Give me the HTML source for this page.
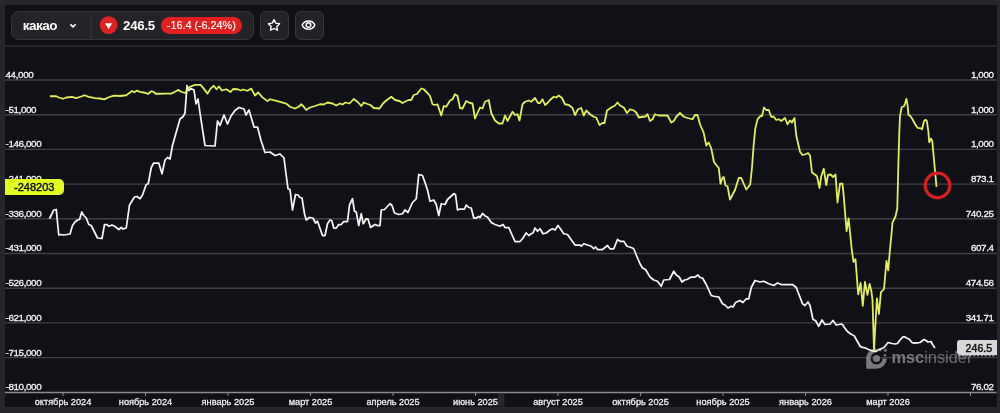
<!DOCTYPE html>
<html><head><meta charset="utf-8">
<style>
html,body{margin:0;padding:0;}
body{width:1000px;height:413px;overflow:hidden;background:#26272c;position:relative;font-family:"Liberation Sans","DejaVu Sans",sans-serif;}
#panel{position:absolute;left:5px;top:5px;width:991.6px;height:401.6px;background:#101116;}
#sep{position:absolute;left:5px;top:45px;width:991.6px;height:1.5px;background:#26262b;}
svg{position:absolute;left:0;top:0;}
.g{stroke:#404046;stroke-width:1.4;}
.ax{stroke:#8c8c90;stroke-width:1.3;}
.tk{stroke:#8c8c90;stroke-width:1;}
.lb{font-family:"Liberation Sans",sans-serif;font-size:9.8px;letter-spacing:-0.36px;fill:#f2f2f2;stroke:#f2f2f2;stroke-width:0.32px;}
.xl{font-family:"Liberation Sans",sans-serif;font-size:9.2px;fill:#eeeeee;stroke:#eeeeee;stroke-width:0.3px;}
.sw{fill:none;stroke:#f4f4f4;stroke-width:1.75;stroke-linejoin:round;}
.sy{fill:none;stroke:#e2ee5a;stroke-width:1.8;stroke-linejoin:round;}
.rc{fill:none;stroke:#d81e1e;stroke-width:3.2;}
.wm{fill:#8a8a8e;opacity:0.85;}
.wmt{font-family:"Liberation Sans",sans-serif;font-size:16.8px;}
.pill{position:absolute;left:10.7px;top:11.2px;width:241.5px;height:26.6px;background:#232328;border:1px solid #35353b;border-radius:8px;}
.btn{position:absolute;top:11.2px;width:26.6px;height:26.6px;background:#222227;border:1px solid #36363c;border-radius:6px;}
.t{position:absolute;white-space:nowrap;line-height:1;}
#name{left:22.8px;top:18.6px;font-size:13.5px;font-weight:700;color:#fff;letter-spacing:-0.55px;}
#price{left:123px;top:18.6px;font-size:13.2px;font-weight:700;color:#fff;letter-spacing:-0.2px;}
#chg{position:absolute;left:160.8px;top:16.8px;width:81.3px;height:17.4px;border-radius:9px;background:#e4201e;}
#chgt{left:166.8px;top:20px;font-size:10.8px;color:#fff;letter-spacing:0px;-webkit-text-stroke:0.15px #fff;}
#div{position:absolute;left:90.3px;top:15.5px;width:1.6px;height:22.5px;background:#2e2e33;}
#ybadge{position:absolute;left:5px;top:178.5px;width:58.5px;height:16px;background:#e3fd1f;border-radius:0 5px 5px 0;}
#ybt{left:14px;top:181.5px;font-size:11px;color:#111;-webkit-text-stroke:0.45px #111;}
#wbadge{position:absolute;left:957px;top:340px;width:40px;height:15px;background:#d8d8d8;border-radius:3px 0 0 3px;}
#wbt{left:965.6px;top:342.6px;font-size:10.6px;color:#111;-webkit-text-stroke:0.45px #111;}
</style></head>
<body>
<div id="panel"></div>
<div id="sep"></div>
<svg width="1000" height="413" viewBox="0 0 1000 413">
<line x1="5" y1="80.0" x2="996.5" y2="80.0" class="g"/>
<line x1="5" y1="114.7" x2="996.5" y2="114.7" class="g"/>
<line x1="5" y1="149.4" x2="996.5" y2="149.4" class="g"/>
<line x1="5" y1="184.1" x2="996.5" y2="184.1" class="g"/>
<line x1="5" y1="218.8" x2="996.5" y2="218.8" class="g"/>
<line x1="5" y1="253.5" x2="996.5" y2="253.5" class="g"/>
<line x1="5" y1="288.2" x2="996.5" y2="288.2" class="g"/>
<line x1="5" y1="322.9" x2="996.5" y2="322.9" class="g"/>
<line x1="5" y1="357.6" x2="996.5" y2="357.6" class="g"/>
<line x1="5" y1="392.5" x2="996.5" y2="392.5" class="ax"/>
<line x1="63.0" y1="392.5" x2="63.0" y2="396" class="tk"/>
<line x1="145.5" y1="392.5" x2="145.5" y2="396" class="tk"/>
<line x1="228.0" y1="392.5" x2="228.0" y2="396" class="tk"/>
<line x1="310.5" y1="392.5" x2="310.5" y2="396" class="tk"/>
<line x1="393.0" y1="392.5" x2="393.0" y2="396" class="tk"/>
<line x1="475.5" y1="392.5" x2="475.5" y2="396" class="tk"/>
<line x1="558.0" y1="392.5" x2="558.0" y2="396" class="tk"/>
<line x1="640.5" y1="392.5" x2="640.5" y2="396" class="tk"/>
<line x1="723.0" y1="392.5" x2="723.0" y2="396" class="tk"/>
<line x1="805.5" y1="392.5" x2="805.5" y2="396" class="tk"/>
<line x1="888.0" y1="392.5" x2="888.0" y2="396" class="tk"/>
<line x1="970.5" y1="392.5" x2="970.5" y2="396" class="tk"/>
<text x="5.5" y="77.9" class="lb">44,000</text>
<text x="5.5" y="112.6" class="lb">-51,000</text>
<text x="5.5" y="147.3" class="lb">-146,000</text>
<text x="5.5" y="182.0" class="lb">-241,000</text>
<text x="5.5" y="216.7" class="lb">-336,000</text>
<text x="5.5" y="251.4" class="lb">-431,000</text>
<text x="5.5" y="286.1" class="lb">-526,000</text>
<text x="5.5" y="320.8" class="lb">-621,000</text>
<text x="5.5" y="355.5" class="lb">-715,000</text>
<text x="5.5" y="390.4" class="lb">-810,000</text>
<text x="993.6" y="77.9" class="lb" text-anchor="end">1,000</text>
<text x="993.6" y="112.6" class="lb" text-anchor="end">1,000</text>
<text x="993.6" y="147.3" class="lb" text-anchor="end">1,000</text>
<text x="993.6" y="182.0" class="lb" text-anchor="end">873.1</text>
<text x="993.6" y="216.7" class="lb" text-anchor="end">740.25</text>
<text x="993.6" y="251.4" class="lb" text-anchor="end">607.4</text>
<text x="993.6" y="286.1" class="lb" text-anchor="end">474.56</text>
<text x="993.6" y="320.8" class="lb" text-anchor="end">341.71</text>
<text x="993.6" y="390.4" class="lb" text-anchor="end">76.02</text>
<text x="63.0" y="404.8" class="xl" text-anchor="middle">октябрь 2024</text>
<text x="145.5" y="404.8" class="xl" text-anchor="middle">ноябрь 2024</text>
<text x="228.0" y="404.8" class="xl" text-anchor="middle">январь 2025</text>
<text x="310.5" y="404.8" class="xl" text-anchor="middle">март 2025</text>
<text x="393.0" y="404.8" class="xl" text-anchor="middle">апрель 2025</text>
<text x="475.5" y="404.8" class="xl" text-anchor="middle">июнь 2025</text>
<text x="558.0" y="404.8" class="xl" text-anchor="middle">август 2025</text>
<text x="640.5" y="404.8" class="xl" text-anchor="middle">октябрь 2025</text>
<text x="723.0" y="404.8" class="xl" text-anchor="middle">ноябрь 2025</text>
<text x="805.5" y="404.8" class="xl" text-anchor="middle">январь 2026</text>
<text x="888.0" y="404.8" class="xl" text-anchor="middle">март 2026</text>
<g class="wm">
<path d="M886.8 358.5 A10.3 10.3 0 0 1 876.5 368.8 L866.2 368.8 L866.2 358.5 A10.3 10.3 0 0 1 876.5 348.2 L876.5 352.5 A6 6 0 1 0 882.5 358.5 Z"/>
<circle cx="876.5" cy="358.5" r="3.6"/>
<circle cx="880.3" cy="349.8" r="1.5"/>
<circle cx="885.3" cy="350.3" r="1.5"/>
<circle cx="885" cy="355.3" r="1.3"/>
<text x="891.4" y="362.6" class="wmt" textLength="81" lengthAdjust="spacingAndGlyphs"><tspan font-weight="700">msc</tspan><tspan font-weight="400" fill="#7c7c80">insider</tspan></text>
</g>
<polyline points="49.5,218.75 53.75,210 56.25,209.5 58.75,235 61.25,234.5 63.75,235 70,234 72.5,225.5 75,222 77.5,220 79.5,219.5 81.75,212 83.75,215.5 86.25,218 88.75,224.5 91.25,225.5 97.5,238 102,238.5 104.5,224.5 107,224.5 108.75,226.25 112,225 115,226.5 118.75,229.5 121.25,227.5 123,229 126.25,228 129.5,205 134.5,197 137,196.5 140,198.75 142.5,195 146.25,184.5 148.25,183.75 151.25,167.5 153.75,163 158.75,163 162,173.75 165,160 167.5,157.5 170,159 172.5,145.5 176,133 180,119 183,116.75 185,113 187,85.5 189,90.5 191,88.5 194,90 196,104 198,99 200,113 205,145.5 215,146 217.5,121 220,125.5 224,115 227.5,124 231,116 235,110.5 239,107.5 244,109 246,115 249,110 254,127 257.5,127 261,140.5 265,152.5 270,152 275,155.5 280,154 284,158 285.5,170 288,188.75 290,189.5 292.5,210 295.5,194.5 298,195 300,197.5 302,198 304.5,213.75 306.25,220 309.5,217.5 313,218 315.5,223 317.5,221.25 322.5,235.5 325,235.5 327.5,223.75 330,220 331.75,220.5 333.75,228 336.25,228 338.75,224.5 341.25,224.5 343.75,221.5 347.5,221.5 349.5,205 352.5,198.75 354.5,211.25 356.25,212 358.75,225.5 361.25,213.75 363.25,223.75 366.25,218.75 368,219 370.5,227.5 375,224.5 377.5,225.5 380,225.5 381.25,210 384.5,209.5 390,203.75 392,205.5 394.5,213 398.75,214.5 402.5,213.75 405,210 408,212.5 412.5,202.5 416.25,198.75 418.75,174.5 422.5,175.5 425,182.5 427.5,190 430,201.25 433.75,200 436.25,204.5 438.75,215.5 441.25,203.75 445,204.5 447.5,199.5 453.75,193.75 455.5,194.5 457.5,210 460,209 464.5,209 466.25,205 468.75,207.5 471.25,208 473.75,218 476.25,218 478.75,216.5 480,217.5 482.5,213.5 485.5,216.25 487.5,217 491.25,222.5 495,224.5 500,226.25 503,224.5 505,227.5 508.75,227.5 515,241.5 520,241.5 522.5,238.75 526.25,233 528.75,235.5 531.25,233.75 533,233 535,228 537.5,231.25 540,228.75 543,233.75 546.25,233 550,230 552.5,228.75 555,230 558,225.5 561.25,230 563.75,233.75 567.5,234.5 575,245 580,245 581.25,246.25 583.75,243.75 587.5,245 591.25,246.25 593.75,248.75 595.5,247 597.5,249.5 602.5,249.5 605,247.5 607.5,245.5 610,248.75 613.75,248.75 617.5,239.5 620,241.25 623.75,241.25 627,246.25 631.25,247.5 633.75,248.75 636.25,255 640,263.75 642.5,268 645.5,269.5 650,277 653.75,280 657.5,281.25 661.25,286.25 663.75,280 669.5,279.5 673.75,271.25 676.25,275 679.25,277 682,282 684.5,280 687,279.5 691.25,277 695,277 698,275 700,277.5 702.5,278 706.25,284.5 711.25,295.5 713.75,296.25 718.75,297 722.5,303.75 725,305 728,308 731.25,306.25 733,307 735.5,302.5 740,300.5 743,302.5 746.25,298.75 748.75,298.75 751.25,287.5 755,280.5 760,282 763.75,281.25 768.75,283.75 773.75,285.5 777.5,283 781.25,284.5 792.5,284.5 796.25,287.5 802.5,303.75 805,305.5 808,302 810,305.5 813,319.5 815.5,320.5 818.75,326.25 822,320 825,324.5 830,324 833,320.5 836.25,325 841.25,324 843,325 844,327 847,331 850,333.5 852.5,335 854,335.5 856,339 860,346 861.5,347.2 865,347.8 868.5,349.5 872,350.8 874.5,351.2 877,351 878,350 881,348.8 884,347.5 886,345 888,342.5 890,343 892,343.5 895,344 897.5,343.5 900,340 903,336.8 904.5,336.8 906.5,338 909,339 912,342.5 914,343.2 917,342.8 920,342.5 924,339.5 926,340.5 928,342 931,341.5 932.5,344.5 935,348" class="sw"/>
<polyline points="50,96.25 56.25,96.25 58.75,97.5 63.1,98.75 66.25,97.5 71.9,96.9 76.25,98.1 81.25,96.5 84.4,95.25 88.75,96.9 95,98.1 100,98.5 104.4,99.4 108.1,97.5 113.75,95.6 120,96 126.25,95.25 129.4,93.1 131.9,91 134.4,92.25 136.9,90.6 140,91.9 143.75,92.5 146.25,93.1 148.1,94 151.25,91.25 153.75,91.9 155.6,93.75 160,93.75 165,93.6 171.25,93.6 175,91.75 178.1,89.9 181.25,91.75 185,93 187.5,89.9 190,86.75 195,84.9 200.6,84.9 203.75,88.6 207.5,93.6 210.6,88.6 213.75,85.75 216.5,89.25 219,86.5 221.9,90.5 226.25,89.25 230.6,92 233.1,89 237.5,89.25 240.6,90.5 243.1,89.5 247.5,90.75 251.25,88.6 255,95.5 258.1,92.4 262.5,97.4 267.5,101.1 270,99.25 277.5,101.1 286.25,103.6 290,106.75 295,108.5 298.75,106.75 301.25,104.25 303.75,106.75 306.25,110 310,107.5 315,106 320,104.25 323.75,104.5 327.5,102.5 332.5,103.5 336.25,105.5 340,103.5 342.5,104.5 345.5,102.5 349.5,103.5 353.75,99 357.5,101.75 361.25,106 363.75,102.5 367.5,104 370.5,105 373.75,108 379.5,108.5 383,103.5 386.25,100.5 391.25,96.75 395,100 399.5,101 402.5,103 406.25,101 408.75,100 411.25,100 413.75,95 417,94 421.25,88.5 423.75,89.25 427.5,93 430,96 432.5,104.25 435,105 437.5,104.25 441.25,115.5 443.75,106 446.25,106.75 450,100.5 452.5,99.25 455,94.25 457.5,96 460,108 462.5,108.5 466.25,101 470,103 472.5,103.5 475,118.5 477.5,113 480,107.5 482.5,108.5 485,101.75 488.75,100 491.25,113 495,120.5 498.75,123.5 502.5,123.5 505,115.5 507.5,121 512.5,111.75 515,115 517.5,114.25 519.5,120.5 522.5,104.25 525,101.75 528.75,100.5 531.25,101.75 535,98 538,103 540,103 542.5,99.25 545,105 547.5,103 550,100 553.75,96.75 556.25,97.5 558.75,95.5 562,98 565,104.25 568.75,105 572.5,108 575,115 578,109.25 581.25,108 583.75,115.5 586.25,110.5 590,114.25 593.75,116.75 596.25,117.5 599.5,125 602.5,123 604.5,123 607,110.5 611.25,107.5 615,105.5 617.5,102.5 620,105.5 623.75,107.5 627,113 630,109.25 633.75,110.5 636.25,112.5 638.75,117.5 642.5,116.75 645,116.75 647.5,114.25 650,121 652.5,119.25 655,114.25 658.75,115.5 663.75,115.5 667.5,115.5 671.25,122.5 673.75,121 676.25,116.75 680,113 683.75,116.75 687.5,118 692.5,119.25 695,115 697.5,115 700,124.25 703.75,133 706.25,145.5 708.75,142.5 711.25,148.5 714,162 716.25,165 718.75,168 720.5,183.75 722.5,177.5 723.75,177 725.5,185.5 727.5,186.25 730,199.5 735,190 738.75,178 741.25,178 746.25,189.5 750.2,184.5 752,167.5 753.7,144.5 755.3,128.4 757.6,119.2 760.6,115.8 762,116 764,107.5 766.25,110 768.75,110 771.25,116.75 773.75,116.75 776.25,120 778.75,119.25 781.25,121 785,118 787.5,124.25 790,120.5 792,122.5 794.5,118 796.25,135.5 800,151.75 802.5,155 805.5,154.25 808,153 810,155.5 812,172.5 815.5,175 817,176.25 819.5,188 821.25,176.25 823.75,168.75 826.25,185 828,175 830.5,174.5 833,177 835.5,174.5 837.5,202.5 840,183.75 842.5,183.75 843.6,194.7 846.6,231.1 848.6,218.4 850.3,235 851.8,250 853.5,261.9 855.5,259.3 858.2,294.4 860.6,283 862.8,305.9 865,281.9 867.4,294.9 869.6,283.9 871.3,290.7 872.5,300 874,349.8 876.9,298.3 878.9,314 880.9,292.4 884,289 886.5,261 888.2,270.3 889.9,250 891.7,232 892.5,222.7 895.5,216.5 897.3,208.2 898.4,162.7 899.3,132 900,116.2 901.7,107 903.7,106.5 905.1,103.6 906.4,98.8 907.5,104.6 908.5,114.8 910.4,116.2 912.4,119.1 915.3,124.5 917.7,127.9 920.6,128.3 922.1,129.3 924,121.1 925.5,119.6 926.9,121.1 928.4,132 929.2,142.3 931,138.6 932.3,141.4 936.5,186.8" class="sy"/>
<circle cx="937.5" cy="185.5" r="12.3" class="rc"/>
<rect x="498" y="393.6" width="6.4" height="13" fill="#28282c"/>
</svg>
<div class="pill"></div>
<div class="t" id="name">какао</div>
<svg width="1000" height="50" style="position:absolute;left:0;top:0">
<path d="M70.8 24.7 L73 26.9 L75.2 24.7" fill="none" stroke="#fff" stroke-width="1.6" stroke-linecap="round" stroke-linejoin="round"/>
<circle cx="108.6" cy="25.1" r="8.9" fill="#e0211f"/>
<path d="M104.9 23.2 L112.3 23.2 L108.6 29 Z" fill="#fff"/>
</svg>
<div id="div"></div>
<div class="t" id="price">246.5</div>
<div id="chg"></div>
<div class="t" id="chgt">-16.4 (-6.24%)</div>
<div class="btn" style="left:260px"></div>
<div class="btn" style="left:295px"></div>
<svg width="1000" height="50" style="position:absolute;left:0;top:0">
<path d="M274.00 19.60 L275.76 23.07 L279.61 23.68 L276.85 26.43 L277.47 30.27 L274.00 28.50 L270.53 30.27 L271.15 26.43 L268.39 23.68 L272.24 23.07 Z" fill="none" stroke="#fff" stroke-width="1.35" stroke-linejoin="round"/>
<path d="M302.2 25.1 C304.6 19.7, 312.4 19.7, 314.8 25.1 C312.4 30.5, 304.6 30.5, 302.2 25.1 Z" fill="none" stroke="#fff" stroke-width="1.4" stroke-linejoin="round"/>
<circle cx="308.5" cy="25.1" r="2.3" fill="none" stroke="#fff" stroke-width="1.5"/>
</svg>
<div id="ybadge"></div>
<div class="t" id="ybt">-248203</div>
<div id="wbadge"></div>
<div class="t" id="wbt">246.5</div>
<svg width="1000" height="413" style="position:absolute;left:0;top:0"><line x1="958" y1="355.6" x2="996.5" y2="355.6" stroke="#cfcfcf" stroke-width="1.2" stroke-dasharray="2.2 1.6" opacity="0.75"/></svg>
</body></html>
